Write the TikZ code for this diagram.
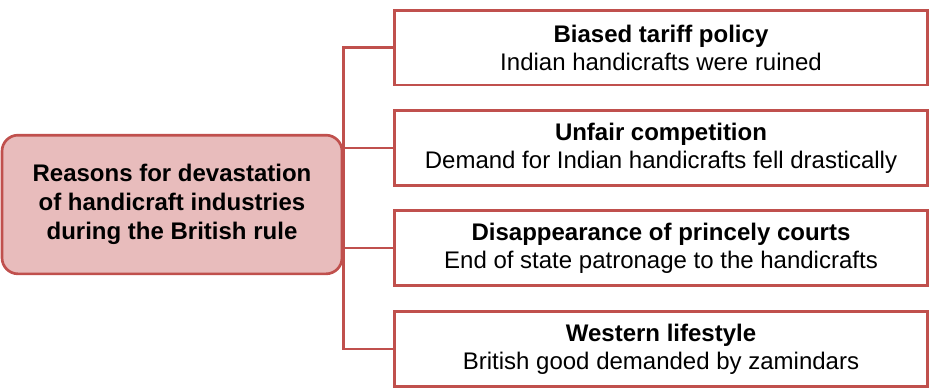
\documentclass[tikz,border=0pt]{standalone}
\usepackage{fontspec}
\setmainfont{Liberation Sans}
\definecolor{boxred}{RGB}{192,80,77}
\definecolor{boxpink}{RGB}{232,188,188}
\tikzset{
    reason/.style={draw=boxred, line width=2pt, fill=white, minimum width=400pt, minimum height=56pt, align=center, font=\fontsize{18}{21}\selectfont},
    cause/.style={draw=boxred, line width=2pt, rounded corners=12pt, fill=boxpink, minimum width=255pt, minimum height=104pt, align=center, font=\bfseries\fontsize{18}{21.75}\selectfont},
    link/.style={draw=boxred, line width=2pt}
}
\begin{document}
\begin{tikzpicture}[x=0.75pt, y=-0.75pt]
        \useasboundingbox (0, 0) rectangle (935, 387);
        % \draw (0, 0) grid (935, 387);
        \node[cause, name=cause] at (172, 204.5) {Reasons for devastation\\of handicraft industries\\during the British rule};
        \node[reason, name=tariff] at (661, 47.5) {\textbf{Biased tariff policy}\\Indian handicrafts were ruined};
        \node[reason, name=competition] at (661, 148) {\textbf{Unfair competition}\\Demand for Indian handicrafts fell drastically};
        \node[reason, name=courts] at (661, 248) {\textbf{Disappearance of princely courts}\\End of state patronage to the handicrafts};
        \node[reason, name=lifestyle] at (661, 349) {\textbf{Western lifestyle}\\British good demanded by zamindars};
        \draw[link] (tariff.west) -- (tariff.west -| cause.east) -- (lifestyle.west -| cause.east) -- (lifestyle.west);
        \draw[link] (competition.west) -- (competition.west -| cause.east);
        \draw[link] (courts.west) -- (courts.west -| cause.east);
    \end{tikzpicture}
\end{document}
